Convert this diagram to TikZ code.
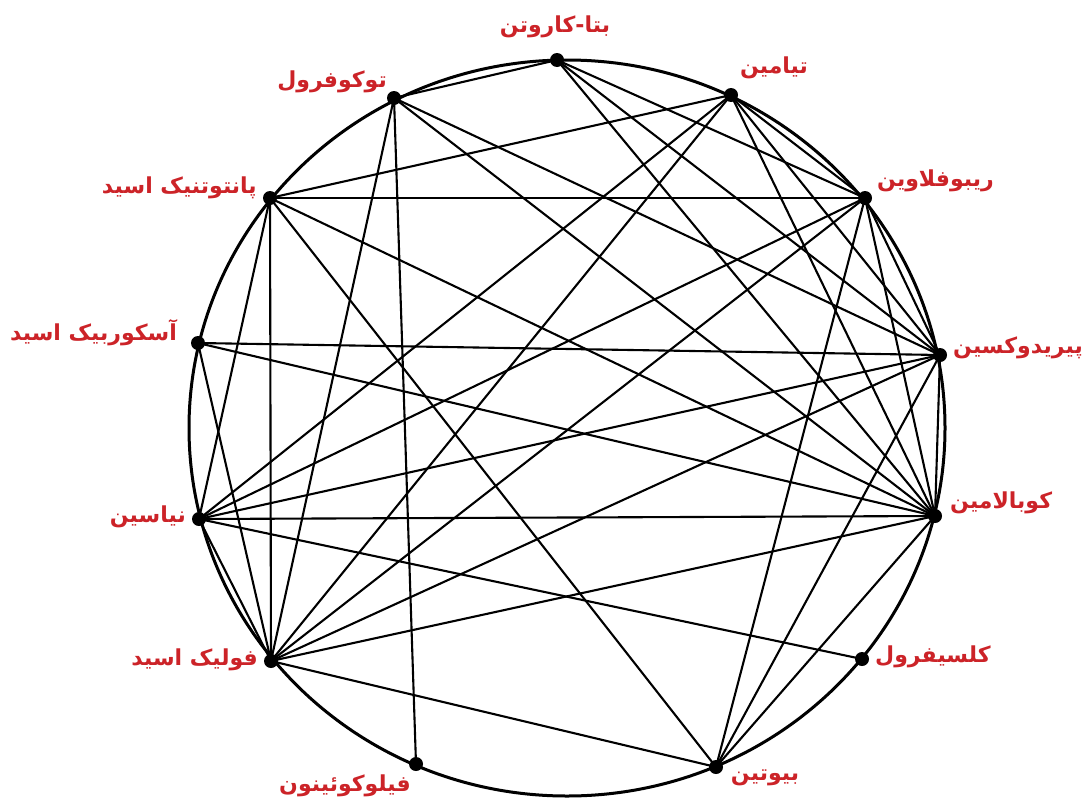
\documentclass[tikz,border=0pt]{standalone}
\usepackage{fontspec}
\TeXXeTstate=1
\newfontfamily\arabicfont[Script=Arabic]{DejaVu Sans}
\definecolor{labred}{RGB}{204,35,40}
\tikzset{
  vit/.style={circle,fill=black,inner sep=0pt,minimum size=14pt},
  lab/.style={text=labred,font=\arabicfont\bfseries\fontsize{22}{26}\selectfont,inner sep=0pt},
  edge/.style={line width=2.1pt,black},
  rim/.style={line width=3pt,black}
}
\begin{document}
\begin{tikzpicture}[x=1pt,y=-1pt]
\useasboundingbox (0,0) rectangle (1091,803);
\fill[white] (0,0) rectangle (1091,803);
\draw[rim] (567,428) ellipse [x radius=378, y radius=368];
% nodes
\node[vit] (B)  at (557,60) {};
\node[vit] (T)  at (731,95) {};
\node[vit] (R)  at (865,198) {};
\node[vit] (P)  at (940,355) {};
\node[vit] (C)  at (935,516) {};
\node[vit] (K)  at (862,659) {};
\node[vit] (Bi) at (716,767) {};
\node[vit] (Ph) at (416,764) {};
\node[vit] (F)  at (271,661) {};
\node[vit] (N)  at (199,519) {};
\node[vit] (A)  at (198,343) {};
\node[vit] (Pa) at (270,198) {};
\node[vit] (To) at (394,98) {};
% edges
\foreach \a/\b in {To/B,To/F,To/Ph,To/P,To/C,
  Pa/T,Pa/R,Pa/N,Pa/F,Pa/Bi,Pa/C,
  A/P,A/C,A/F,
  N/K,N/C,N/T,N/R,N/P,N/F,
  F/T,F/R,F/P,F/C,F/Bi,
  Bi/R,Bi/P,Bi/C,
  P/C,B/R,B/P,B/C,
  T/R,T/P,T/C,R/C,R/P}
  \draw[edge] (\a.center) -- (\b.center);
% labels
\node[lab] (lB)  at (555,27)  {\beginR بتا-کاروتن\endR};
\node[lab] (lT)  at (774,68)  {\beginR تیامین\endR};
\node[lab,anchor=west] (lR)  at (877,181) {\beginR ریبوفلاوین\endR};
\node[lab,anchor=west] (lP)  at (953,348) {\beginR پیریدوکسین\endR};
\node[lab,anchor=west] (lC)  at (950,503) {\beginR کوبالامین\endR};
\node[lab,anchor=west] (lK)  at (875,657) {\beginR کلسیفرول\endR};
\node[lab] (lBi) at (765,778) {\beginR بیوتین\endR};
\node[lab] (lPh) at (345,786) {\beginR فیلوکوئینون\endR};
\node[lab,anchor=east] (lF)  at (258,660) {\beginR فولیک اسید\endR};
\node[lab,anchor=east] (lN)  at (186,517) {\beginR نیاسین\endR};
\node[lab,anchor=east] (lA)  at (177,333) {\beginR آسکوربیک اسید\endR};
\node[lab,anchor=east] (lPa) at (257,188) {\beginR پانتوتنیک اسید\endR};
\node[lab] (lTo) at (332,82)  {\beginR توکوفرول\endR};
\end{tikzpicture}
\end{document}
